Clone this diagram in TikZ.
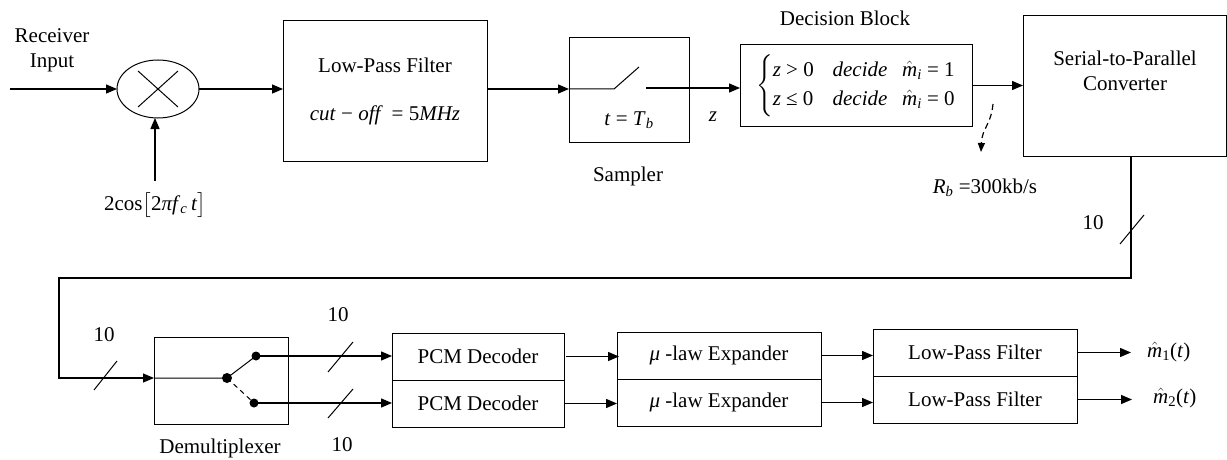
\documentclass[tikz,border=0pt]{standalone}
\usepackage{amsmath}
\usepackage{fontspec}
\setmainfont{Liberation Serif}
\usetikzlibrary{arrows.meta,shapes.geometric,calc}
\newcommand\mhat{\ensuremath{\hat{\textit{m}}}}
\begin{document}
\begin{tikzpicture}[x=1pt,y=-1pt,
  every node/.style={font=\fontsize{21}{25}\selectfont},
  box/.style={draw, rectangle, line width=1pt, inner sep=0pt, outer sep=0pt},
  lbl/.style={inner sep=1pt},
  arr/.style={line width=1.3pt, -{Triangle[length=11pt,width=9pt]}},
  wire/.style={line width=1.1pt},
  slash/.style={line width=1pt}]
\useasboundingbox (0,0) rectangle (1227,460);

% ---------- top row ----------
\node[lbl, align=center] (rin) at (52,50) {Receiver\\Input};
\coordinate (in) at (10,89);
\node[draw, ellipse, line width=1pt, minimum width=82pt, minimum height=58pt, inner sep=0pt, outer sep=0pt] (mix) at (158,89) {};
\draw[line width=1pt] ([shift={(-20,-18)}]mix.center) -- ([shift={(20,18)}]mix.center);
\draw[line width=1pt] ([shift={(-20,18)}]mix.center) -- ([shift={(20,-18)}]mix.center);
\draw[arr] (in) -- (mix.west);
\node[lbl] (osc) at (155,205) {2cos$\bigl[$2\textit{πf}\textsubscript{\textit{c}}\,\textit{t}$\bigr]$};
\coordinate (oscin) at (155,181);
\draw[arr] (oscin) -- (oscin |- mix.south);

\node[box, minimum width=204pt, minimum height=140pt] (lpf) at (385,91) {};
\node[lbl] (lpft) at (385,65) {Low-Pass Filter};
\node[lbl] (lpff) at (385,115) {\textit{cut} − \textit{off}\, = 5\textit{MHz}};
\draw[arr] (mix.east) -- (mix.east -| lpf.west);

\node[box, minimum width=120pt, minimum height=104pt] (samp) at (629,90) {};
\coordinate (sa) at (614,89);
\coordinate (sb) at (639,67);
\coordinate (sc) at (646,88);
\draw[arr] (lpf.east |- sa) -- (samp.west |- sa);
\draw[line width=1pt] (samp.west |- sa) -- (sa) -- (sb);
\node[lbl] (tb) at (629,120) {\textit{t} = \textit{T}\textsubscript{\textit{b}}};
\node[lbl] (sampl) at (628,176) {Sampler};
\node[lbl] (zl) at (713,117) {\textit{z}};

\node[box, minimum width=232pt, minimum height=81pt] (dec) at (856,85.5)
  {$\renewcommand\arraystretch{1.15}\left\{\begin{array}{@{}l@{\hspace{0.9em}}l@{\hspace{0.7em}}l@{}}
   \text{\textit{z} > 0} & \text{\textit{decide}} & \text{\mhat\textsubscript{\textit{i}} = 1}\\
   \text{\textit{z} ≤ 0} & \text{\textit{decide}} & \text{\mhat\textsubscript{\textit{i}} = 0}
   \end{array}\right.$};
\node[lbl] (decl) at (845,18) {Decision Block};
\draw[arr] (sc) -- (sc -| dec.west);

\node[box, minimum width=203pt, minimum height=140pt] (sp) at (1124.5,86) {};
\node[lbl, align=center] (spt) at (1125,71) {Serial-to-Parallel\\Converter};
\draw[arr] (dec.east) -- (dec.east -| sp.west);

\coordinate (ra) at (993,104);
\coordinate (rb) at (981,152);
\draw[line width=1.2pt, dash pattern=on 6pt off 4pt, -{Triangle[length=9pt,width=7pt]}]
  (ra) .. controls (991,125) and (982,128) .. (rb);
\node[lbl] (rbl) at (985,188) {\textit{R}\textsubscript{\textit{b}} =300kb/s};

% ---------- bottom row ----------
\node[box, minimum width=134pt, minimum height=87pt] (demux) at (221,380.5) {};
\node[lbl] (dmx) at (220,448) {Demultiplexer};

\coordinate (b1) at (1131,278);
\coordinate (b2) at (59,278);
\coordinate (b3) at (59,378);
\draw[wire, -{Triangle[length=11pt,width=9pt]}] (b1 |- sp.south) -- (b1) -- (b2) -- (b3) -- (b3 -| demux.west);
\draw[slash] (1120,244) -- (1144,215);
\node[lbl] (n1) at (1093,223) {10};
\draw[slash] (94,390) -- (117,361);
\node[lbl] (n2) at (104,335) {10};

\coordinate (d0) at (227,378);
\coordinate (d1) at (256,356);
\coordinate (d2) at (254,403);
\draw[line width=1pt] (b3 -| demux.west) -- (d0) -- (d1);
\draw[line width=1pt, dash pattern=on 5pt off 4pt] (d0) -- (d2);
\fill (d0) circle (5);
\fill (d1) circle (4.5);
\fill (d2) circle (4.5);

\node[box, minimum width=172pt, minimum height=47pt] (pcm1) at (478,356.5) {PCM Decoder};
\node[box, minimum width=172pt, minimum height=47pt] (pcm2) at (478,403.5) {PCM Decoder};
\draw[arr] (d1) -- (d1 -| pcm1.west);
\draw[arr] (d2) -- (d2 -| pcm2.west);
\draw[slash] (328,372) -- (353,342);
\node[lbl] (n3) at (338,315) {10};
\draw[slash] (328,418) -- (353,389);
\node[lbl] (n4) at (342,445) {10};

\node[box, minimum width=204pt, minimum height=47pt] (mu1) at (719,355.5) {\textit{μ} -law Expander};
\node[box, minimum width=204pt, minimum height=47pt] (mu2) at (719,402.5) {\textit{μ} -law Expander};
\draw[arr] ([xshift=2pt]pcm1.east) -- ([xshift=2pt]pcm1.east -| mu1.west);
\draw[arr] (pcm2.east) -- (pcm2.east -| mu2.west);

\node[box, minimum width=204pt, minimum height=47pt] (f1) at (975,352.5) {Low-Pass Filter};
\node[box, minimum width=204pt, minimum height=47pt] (f2) at (975,399.5) {Low-Pass Filter};
\draw[arr] (mu1.east) -- (mu1.east -| f1.west);
\draw[arr] (mu2.east) -- (mu2.east -| f2.west);

\node[lbl, anchor=west] (m1) at (1146,352) {\mhat\textsubscript{1}(\textit{t})};
\node[lbl, anchor=west] (m2) at (1152,398) {\mhat\textsubscript{2}(\textit{t})};
\draw[arr, shorten >=15pt] (f1.east) -- (f1.east -| m1.west);
\draw[arr, shorten >=20pt] (f2.east) -- (f2.east -| m2.west);
\end{tikzpicture}
\end{document}
